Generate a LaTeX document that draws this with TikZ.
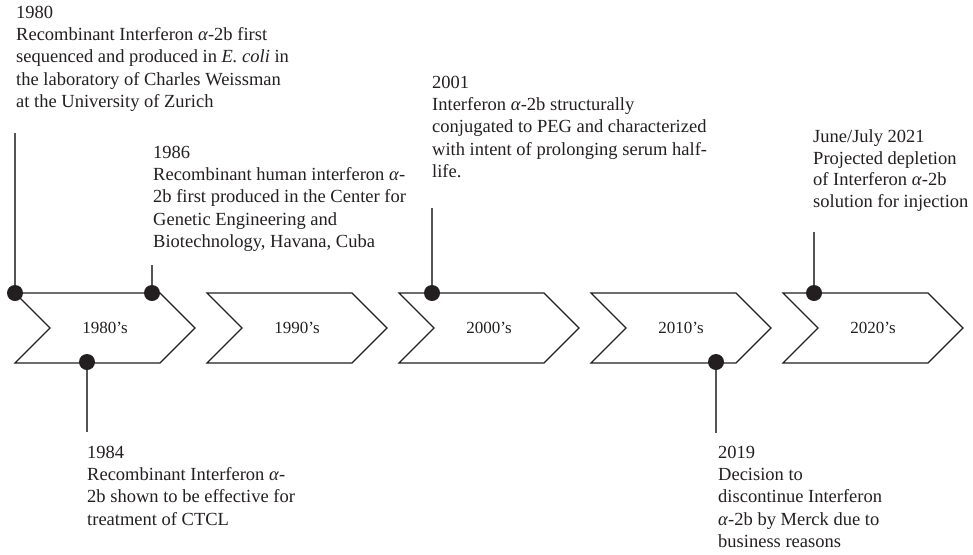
\documentclass[tikz,border=0pt]{standalone}
\usepackage{fontspec}
\setmainfont{Liberation Serif}
\usetikzlibrary{shapes.symbols}
\usetikzlibrary{positioning}

\definecolor{ink}{HTML}{231F20}
\definecolor{stemgrey}{HTML}{555555}

\tikzset{
  era/.style={signal, signal from=west, signal to=east, draw=ink, line width=1.1pt,
    minimum width=180pt, minimum height=70pt, inner sep=0pt, text=ink,
    font=\fontsize{17}{22}\selectfont},
  event/.style={circle, fill=ink, minimum size=16pt, inner sep=0pt},
  note/.style={align=left, anchor=base west, inner sep=0pt, text=ink,
    font=\fontsize{18.5}{22.4}\selectfont},
  stem/.style={draw=stemgrey, line width=1.3pt},
}

\begin{document}
\begin{tikzpicture}[x=1pt,y=-1pt]
    \useasboundingbox (0,0) rectangle (973,554);
    % the decades
    \node[era] (e1980) at (105,328) {1980’s};
    \node[era] (e1990) at (297,328) {1990’s};
    \node[era] (e2000) at (489,328) {2000’s};
    \node[era] (e2010) at (681,328) {2010’s};
    \node[era] (e2020) at (873,328) {2020’s};

    % events on the chevrons
    \node[event] (d1980) at (15,293) {};
    \node[event] (d1986) at (152,293) {};
    \node[event] (d1984) at (87,362) {};
    \node[event] (d2001) at (432,293) {};
    \node[event] (d2019) at (716,362) {};
    \node[event] (d2021) at (814,293) {};

    \coordinate (t1980) at (15,133);
    \coordinate (t1986) at (152,265);
    \coordinate (t1984) at (87,432);
    \coordinate (t2001) at (432,208);
    \coordinate (t2019) at (716,433);
    \coordinate (t2021) at (814,232);

    \draw[stem] (d1980) -- (t1980);
    \draw[stem] (d1986) -- (t1986);
    \draw[stem] (d1984) -- (t1984);
    \draw[stem] (d2001) -- (t2001);
    \draw[stem] (d2019) -- (t2019);
    \draw[stem] (d2021) -- (t2021);

    % texts (anchored on the baseline of their last line)
    \node[note] (n1980) at (16,107.6) {1980\\Recombinant Interferon \textit{α}-2b first\\sequenced and produced in \textit{E. coli} in\\the laboratory of Charles Weissman\\at the University of Zurich};
    \node[note] (n1986) at (153,247.6) {1986\\Recombinant human interferon \textit{α}-\\2b first produced in the Center for\\Genetic Engineering and\\Biotechnology, Havana, Cuba};
    \node[note] (n2001) at (432,177.6) {2001\\Interferon \textit{α}-2b structurally\\conjugated to PEG and characterized\\with intent of prolonging serum half-\\life.};
    \node[note, font=\fontsize{18.5}{21.4}\selectfont] (n2021) at (813,207) {June/July 2021\\Projected depletion\\of Interferon \textit{α}-2b\\solution for injection};
    \node[note] (n1984) at (87,525.2) {1984\\Recombinant Interferon \textit{α}-\\2b shown to be effective for\\treatment of CTCL};
    \node[note] (n2019) at (718,547.6) {2019\\Decision to\\discontinue Interferon\\\textit{α}-2b by Merck due to\\business reasons};
\end{tikzpicture}
\end{document}
